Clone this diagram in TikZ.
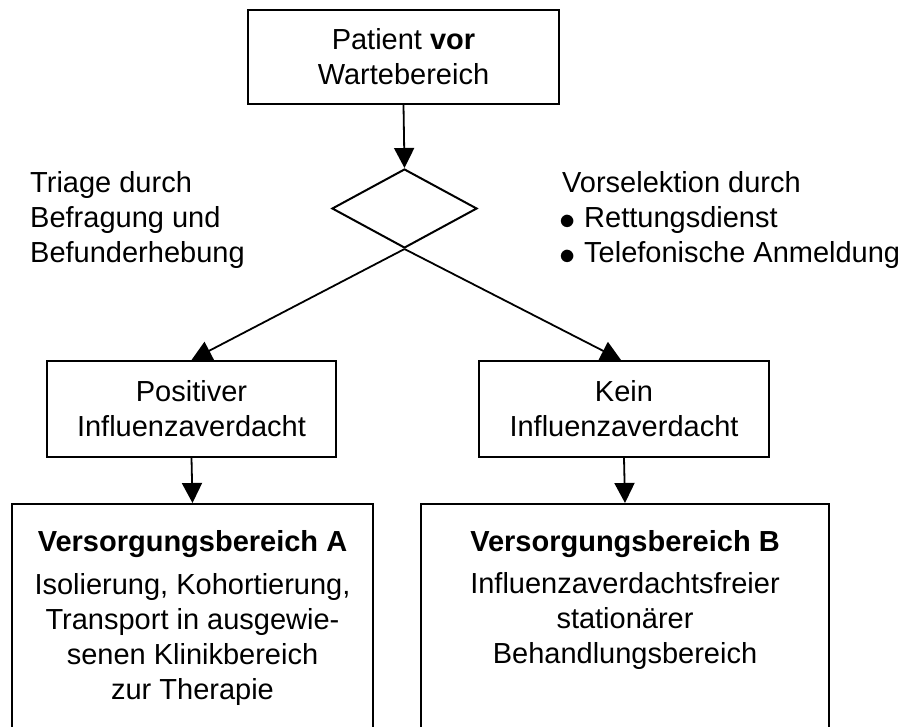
\documentclass[tikz,border=0pt]{standalone}
\usepackage{fontspec}
\setmainfont{Liberation Sans}
\usetikzlibrary{shapes.geometric,arrows.meta,calc}
\newcommand{\bulletitem}{\makebox[22pt][l]{\hspace{-2.5pt}\raisebox{-2pt}{\scalebox{1.3}{$\bullet$}}}}
\begin{document}
\begin{tikzpicture}[x=1pt,y=-1pt,
  every node/.style={font=\fontsize{29}{35}\selectfont},
  boxnode/.style={draw,line width=2pt,rectangle,inner sep=0pt,align=center},
  decision/.style={draw,line width=2pt,diamond,inner sep=0pt,minimum width=145pt,minimum height=79pt},
  plaintext/.style={inner sep=0pt,align=left,anchor=north west},
  boxtext/.style={inner sep=0pt,align=center,anchor=north},
  conn/.style={line width=1.8pt,-{Triangle[length=20pt,width=20pt]}},
]
\clip (0,0) rectangle (915,726);
% boxes
\node[boxnode,minimum width=311pt,minimum height=94pt] (top) at (403.5,57) {Patient \textbf{vor}\\Wartebereich};
\node[decision] (dia) at (404.5,208.5) {};
\node[boxnode,minimum width=289pt,minimum height=96pt] (pos) at (191.5,409) {Positiver\\Influenzaverdacht};
\node[boxnode,minimum width=290pt,minimum height=96pt] (kein) at (624,409) {Kein\\Influenzaverdacht};
\node[boxnode,minimum width=361pt,minimum height=226pt] (bereichA) at (192.5,617) {};
\node[boxnode,minimum width=408pt,minimum height=226pt] (bereichB) at (625,617) {};
% box texts
\node[boxtext] (textA) at ($(bereichA.north)+(0,27)$) {\textbf{Versorgungsbereich A}\\[8pt]Isolierung, Kohortierung,\\Transport in ausgewie-\\senen Klinikbereich\\zur Therapie};
\node[boxtext] (textB) at ($(bereichB.north)+(0,27)$) {\textbf{Versorgungsbereich B}\\[7pt]Influenzaverdachtsfreier\\station\"arer\\Behandlungsbereich};
% side texts
\node[plaintext] (triage) at (30,171) {Triage durch\\Befragung und\\Befunderhebung};
\node[plaintext] (vorsel) at (562,171) {Vorselektion durch\\\bulletitem Rettungsdienst\\\bulletitem Telefonische Anmeldung};
% connectors
\draw[conn] (top.south) -- (dia.north);
\draw[conn] (dia.south) -- (pos.north);
\draw[conn] (dia.south) -- ($(kein.north)+(-3,0)$);
\draw[conn] (pos.south) -- (bereichA.north);
\draw[conn] (kein.south) -- (bereichB.north);
\end{tikzpicture}
\end{document}
